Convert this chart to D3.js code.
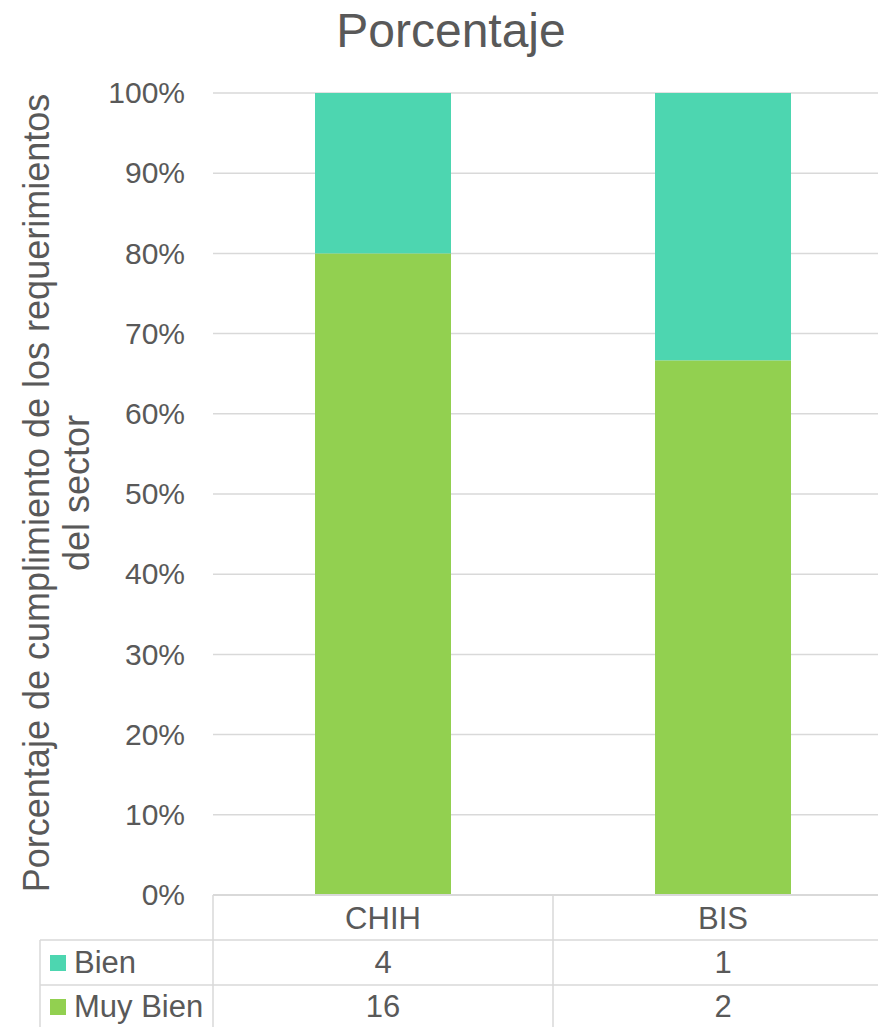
<!DOCTYPE html>
<html>
<head>
<meta charset="utf-8">
<script src="https://cdn.jsdelivr.net/npm/d3@7"></script>
<style>
  html, body { margin: 0; padding: 0; background: #fff; }
  svg { display: block; }
  text { font-family: "Liberation Sans", Arial, sans-serif; fill: #595959; }
</style>
</head>
<body>
<script>
const categories = ["CHIH", "BIS"];
const seriesNames = ["Muy Bien", "Bien"];          // stacking order (bottom to top)
const tableOrder = ["Bien", "Muy Bien"];           // data table row order
const bienValues = [4, 1];
const muyBienValues = [16, 2];
const yTickValues = [0, 0.1, 0.2, 0.3, 0.4, 0.5, 0.6, 0.7, 0.8, 0.9, 1.0];
const colors = { "Bien": "#4DD6B0", "Muy Bien": "#92D050" };

const W = 878, H = 1027;
const svg = d3.select("body").append("svg").attr("width", W).attr("height", H);

const rows = categories.map((c, i) => ({ cat: c, "Bien": bienValues[i], "Muy Bien": muyBienValues[i] }));

const plotLeft = 213, plotRight = 893, plotTop = 93, plotBottom = 895;

const x = d3.scaleBand().domain(categories).range([plotLeft, plotRight])
  .paddingInner(0.6).paddingOuter(0.3);
const y = d3.scaleLinear().domain([0, 1]).range([plotBottom, plotTop]);

// faint decorative arc at left edge
svg.append("path")
  .attr("d", "M -30 840 Q 12 880 -30 925")
  .attr("fill", "none").attr("stroke", "#e3f2fa").attr("stroke-width", 5);

// gridlines
svg.append("g").selectAll("line").data(yTickValues.filter(v => v > 0)).join("line")
  .attr("x1", plotLeft).attr("x2", W)
  .attr("y1", d => y(d)).attr("y2", d => y(d))
  .attr("stroke", "#d9d9d9").attr("stroke-width", 1.5);

// y-axis tick labels
const yAxis = d3.axisLeft(y).tickValues(yTickValues).tickFormat(d3.format(".0%")).tickSize(0).tickPadding(0);
const gy = svg.append("g").attr("transform", `translate(185,0)`).call(yAxis);
gy.select(".domain").remove();
gy.selectAll("text").attr("font-size", 30).attr("fill", "#595959")
  .attr("font-family", "Liberation Sans, Arial, sans-serif");

// stacked bars
const stack = d3.stack().keys(seriesNames).offset(d3.stackOffsetExpand);
const stacked = stack(rows);
svg.append("g").selectAll("g").data(stacked).join("g")
  .attr("fill", d => colors[d.key])
  .selectAll("rect").data(d => d).join("rect")
  .attr("x", d => x(d.data.cat))
  .attr("width", x.bandwidth())
  .attr("y", d => y(d[1]))
  .attr("height", d => y(d[0]) - y(d[1]));

// title
svg.append("text").attr("x", 451).attr("y", 47).attr("text-anchor", "middle")
  .attr("font-size", 48).text("Porcentaje");

// y-axis title
const yt = svg.append("text").attr("transform", "translate(49,493) rotate(-90)")
  .attr("text-anchor", "middle").attr("font-size", 36);
yt.append("tspan").attr("x", 0).attr("y", 0).text("Porcentaje de cumplimiento de los requerimientos");
yt.append("tspan").attr("x", 0).attr("y", 40).text("del sector");

// data table
const tbl = svg.append("g");
const lineColor = "#d9d9d9", lw = 1.5;
const rowTop = [plotBottom, 940, 985];
const rowBottom = [940, 985, 1030];
// axis / header top line
tbl.append("line").attr("x1", plotLeft).attr("x2", W).attr("y1", plotBottom).attr("y2", plotBottom)
  .attr("stroke", lineColor).attr("stroke-width", 2);
// row top lines
tbl.selectAll("line.rowline").data([940, 985]).join("line").attr("class", "rowline")
  .attr("x1", 40).attr("x2", W).attr("y1", d => d).attr("y2", d => d)
  .attr("stroke", lineColor).attr("stroke-width", lw);
// vertical lines
tbl.append("line").attr("x1", 40).attr("x2", 40).attr("y1", 940).attr("y2", H)
  .attr("stroke", lineColor).attr("stroke-width", lw);
const step = x.step();
const cellEdges = categories.map(c => x(c) + x.bandwidth() / 2 - step / 2);
tbl.selectAll("line.vline").data(cellEdges).join("line").attr("class", "vline")
  .attr("x1", d => d).attr("x2", d => d).attr("y1", plotBottom).attr("y2", H)
  .attr("stroke", lineColor).attr("stroke-width", lw);

// header category labels
tbl.selectAll("text.cat").data(categories).join("text").attr("class", "cat")
  .attr("x", d => x(d) + x.bandwidth() / 2).attr("y", 929)
  .attr("text-anchor", "middle").attr("font-size", 31).text(d => d);

// value rows
const rowBase = [973, 1017];
tableOrder.forEach((name, ri) => {
  tbl.append("rect").attr("x", 50).attr("y", rowBase[ri] - 18).attr("width", 16).attr("height", 16)
    .attr("fill", colors[name]);
  tbl.append("text").attr("x", 74).attr("y", rowBase[ri]).attr("font-size", 31).text(name);
  tbl.selectAll(null).data(rows).join("text")
    .attr("x", d => x(d.cat) + x.bandwidth() / 2).attr("y", rowBase[ri])
    .attr("text-anchor", "middle").attr("font-size", 31).text(d => d[name]);
});
</script>
</body>
</html>
